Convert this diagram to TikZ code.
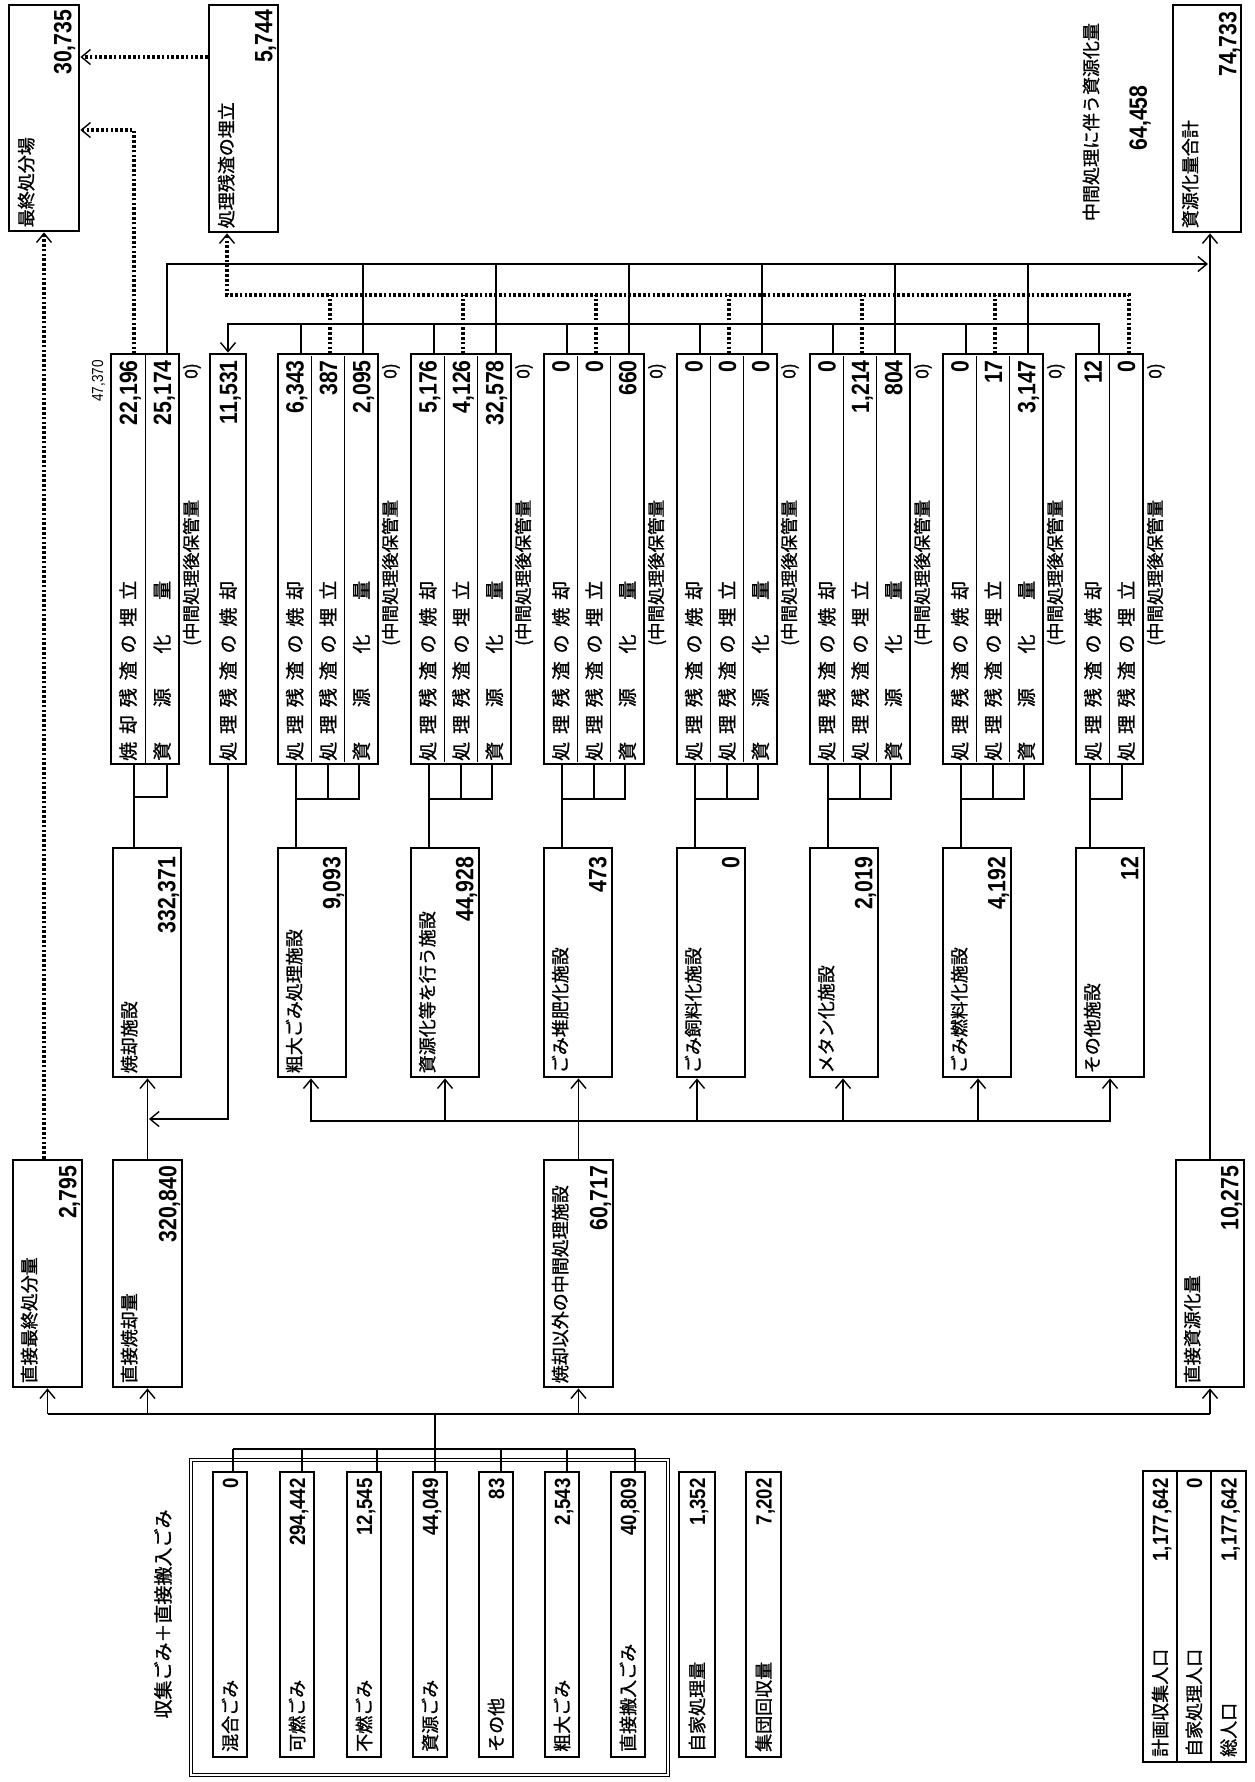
\documentclass[tikz,border=0pt]{standalone}
\usepackage{fontspec}
\setmainfont{Noto Sans CJK JP}
\newfontfamily\jb[FakeBold=1.2]{Noto Sans CJK JP}
\newfontfamily\nf[FakeStretch=0.85]{Liberation Sans}
\usetikzlibrary{arrows.meta,calc}
\newcommand\rowInc{\makebox[180pt]{処\hfill 理\hfill 残\hfill 渣\hfill の\hfill 焼\hfill 却}}
\newcommand\rowLand{\makebox[180pt]{処\hfill 理\hfill 残\hfill 渣\hfill の\hfill 埋\hfill 立}}
\newcommand\rowRes{\makebox[180pt]{資\hfill 源\hfill 化\hfill 量}}
\newcommand\rowIncLand{\makebox[180pt]{焼\hfill 却\hfill 残\hfill 渣\hfill の\hfill 埋\hfill 立}}
\begin{document}
\begin{tikzpicture}[x=-1pt,y=-1pt,rotate=90,transform shape,
  box/.style={draw, line width=2.8pt, inner sep=0pt, rectangle},
  lbl/.style={inner sep=0pt, font=\jb\fontsize{18}{18}\selectfont},
  rlbl/.style={inner sep=0pt, font=\jb\fontsize{19}{19}\selectfont},
  val/.style={inner sep=0pt, font=\nf\bfseries\fontsize{25}{25}\selectfont},
  sval/.style={inner sep=0pt, font=\nf\bfseries\fontsize{22}{22}\selectfont},
  note/.style={inner sep=0pt, font=\jb\fontsize{17.5}{17.5}\selectfont},
  sepl/.style={line width=0.9pt},
  thinl/.style={line width=1.5pt},
  thickl/.style={line width=2.6pt},
  dotl/.style={line width=3.2pt, dash pattern=on 2.6pt off 2.2pt},
  arr/.style={-{Straight Barb[length=9pt,width=15pt,line width=1.4pt]}},
]
\fill[white] (0,0) rectangle (1782,1254);
\useasboundingbox (0,0) rectangle (1782,1254);

% ---------- top boxes
\node[box, minimum width=226pt, minimum height=70pt] (saishu) at (118,44) {};
\node[lbl, anchor=north west] (saishuL) at ($(saishu.north west)+(-5,10)$) {最終処分場};
\node[val, anchor=base east] (saishuV) at ($(saishu.south east)+(6,-9)$) {30,735};

\node[box, minimum width=227pt, minimum height=69pt] (zumetate) at (118.5,243.5) {};
\node[lbl, anchor=north west] (zumetateL) at ($(zumetate.north west)+(-5,10)$) {処理残渣の埋立};
\node[val, anchor=base east] (zumetateV) at ($(zumetate.south east)+(6,-7)$) {5,744};

\node[box, minimum width=227pt, minimum height=68pt] (stotal) at (118.5,1207) {};
\node[lbl, anchor=north west] (stotalL) at ($(stotal.north west)+(-5,10)$) {資源化量合計};
\node[val, anchor=base east] (stotalV) at ($(stotal.south east)+(8,-6)$) {74,733};

\node[lbl] (chukanL) at (122,1091) {中間処理に伴う資源化量};
\node[val] (chukanV) at (118,1140) {64,458};

% ---------- facility boxes
\foreach \k/\L/\nm/\v in {0/113/焼却施設/{332,371},1/278/粗大ごみ処理施設/{9,093},2/411/資源化等を行う施設/{44,928},3/544/ごみ堆肥化施設/473,4/677/ごみ飼料化施設/0,5/810/メタン化施設/{2,019},6/943/ごみ燃料化施設/{4,192},7/1076/その他施設/12}{
  \node[box, minimum width=229pt, minimum height=68pt] (f\k) at (962.5,\L+34) {};
  \node[lbl, anchor=north west] (f\k-l) at ($(f\k.north west)+(-5,9)$) {\nm};
  \node[val, anchor=base east] (f\k-v) at ($(f\k.south east)+(10,-7)$) {\v};
}

% ---------- incineration group
\node[box, minimum width=410pt, minimum height=68pt] (g0) at (559,145) {};
\draw[sepl] (g0.west) -- (g0.east);
\node[rlbl, anchor=west] (g0-l1) at (761,128) {\rowIncLand};
\node[rlbl, anchor=west] (g0-l2) at (761,162) {\rowRes};
\node[val, anchor=base east] (g0-v1) at (360,137) {22,196};
\node[val, anchor=base east] (g0-v2) at (360,171) {25,174};
\node[inner sep=0pt, font=\nf\fontsize{16}{16}\selectfont, anchor=base east] (g0-t) at (360,103) {47,370};
\node[note, anchor=west] (g0-n1) at (646,192) {(中間処理後保管量};
\node[note, anchor=east] (g0-n2) at (363,192) {0)};
\draw[thinl] (764,167) -| (797,134) -- ($(f0.east)+(0,-13)$);
\draw[thinl] (764,134) -- (797,134);

% ---------- residue incineration box
\node[box, minimum width=410pt, minimum height=36pt] (zinc) at (559,228) {};
\node[rlbl, anchor=west] (zinc-l) at (761,228) {\rowInc};
\node[val, anchor=base east] (zinc-v) at (360,237) {11,531};

% ---------- three-row groups
\foreach \k/\L/\a/\b/\c in {1/278/{6,343}/387/{2,095},2/411/{5,176}/{4,126}/{32,578},3/544/0/0/660,4/677/0/0/0,5/810/0/{1,214}/804,6/943/0/17/{3,147}}{
  \node[box, minimum width=410pt, minimum height=100pt] (g\k) at (559,\L+50) {};
  \draw[sepl] (356,\L+33.3) -- (762,\L+33.3) (356,\L+66.7) -- (762,\L+66.7);
  \node[rlbl, anchor=west] (g\k-l1) at (761,\L+16.7) {\rowInc};
  \node[rlbl, anchor=west] (g\k-l2) at (761,\L+50) {\rowLand};
  \node[rlbl, anchor=west] (g\k-l3) at (761,\L+83.3) {\rowRes};
  \node[val, anchor=base east] (g\k-v1) at (360,\L+25.7) {\a};
  \node[val, anchor=base east] (g\k-v2) at (360,\L+59) {\b};
  \node[val, anchor=base east] (g\k-v3) at (360,\L+92.3) {\c};
  \node[note, anchor=west] (g\k-n1) at (646,\L+113) {(中間処理後保管量};
  \node[note, anchor=east] (g\k-n2) at (363,\L+113) {0)};
  \draw[thinl] (354,\L+23) -- (324,\L+23);
  \draw[dotl] (354,\L+52) -- (295,\L+52);
  \draw[thickl] (354,\L+85) -- (264,\L+85);
  \draw[thinl] (764,\L+81) -| (799,\L+18) -- ($(f\k.east)+(0,-16)$);
  \draw[thinl] (764,\L+50) -- (799,\L+50);
  \draw[thinl] (764,\L+18) -- (799,\L+18);
}

% ---------- other group (two rows)
\node[box, minimum width=410pt, minimum height=67pt] (g7) at (559,1109.5) {};
\draw[sepl] (g7.west) -- (g7.east);
\node[rlbl, anchor=west] (g7-l1) at (761,1092.8) {\rowInc};
\node[rlbl, anchor=west] (g7-l2) at (761,1126.2) {\rowLand};
\node[val, anchor=base east] (g7-v1) at (360,1101.8) {12};
\node[val, anchor=base east] (g7-v2) at (360,1135.2) {0};
\node[note, anchor=west] (g7-n1) at (646,1156) {(中間処理後保管量};
\node[note, anchor=east] (g7-n2) at (363,1156) {0)};
\draw[thinl] (764,1122) -| (799,1090) -- ($(f7.east)+(0,-20)$);
\draw[thinl] (764,1090) -- (799,1090);

% ---------- upper buses
\draw[dotl, arr] (354,134) -| ($(saishu.south)+(12,0)$);
\draw[dotl, arr] ($(zumetate.north)+(-61.5,0)$) -- ($(saishu.south)+(-61,0)$);
\draw[dotl, arr] (354,1129) -| (295,227) -- ($(zumetate.west)+(0,-16.5)$);
\draw[thickl, arr] (354,167) -| (264,1208);
\draw[thinl, arr] (354,1099) -- (324,1099) -- (324,228) -- (zinc.east);

% ---------- direct boxes
\foreach \k/\c/\h/\nm/\v in {1/47.5/69/直接最終処分量/{2,795},2/147.5/69/直接焼却量/{320,840},3/578.5/69/焼却以外の中間処理施設/{60,717},4/1210/68/直接資源化量/{10,275}}{
  \node[box, minimum width=227pt, minimum height=\h pt] (d\k) at (1273.5,\c) {};
  \node[lbl, anchor=north west] (d\k-l) at ($(d\k.north west)+(-5,9)$) {\nm};
  \node[val, anchor=base east] (d\k-v) at ($(d\k.south east)+(7,-7)$) {\v};
}
\draw[dotl, arr] ($(d1.east)+(0,-3.5)$) -- ($(saishu.west |- d1.east)+(0,-3.5)$);
\draw[thickl, arr] (d4.east) -- (stotal.west |- d4.east);
\draw[thinl, arr] (d2.east) -- (f0.west |- d2.east);
\draw[thinl, arr] (zinc.west) -| (1119,149);
\draw[thinl, arr] (d3.east) -- (f3.west |- d3.east);

% ---------- lower facility bus
\draw[thinl] (1121,311) -- (1121,1110);
\foreach \k/\dx in {1/-1,2/0,4/-14,5/-1,6/1,7/0}{
  \draw[thinl, arr] ($(f\k.west)+(44,\dx)$) -- ($(f\k.west)+(0,\dx)$);
}

% ---------- input group
\node[draw, line width=1pt, double, double distance=2.6pt, minimum width=315pt, minimum height=477pt, inner sep=0pt] (inbox) at (1617.5,429.5) {};
\node[inner sep=0pt, font=\jb\fontsize{19}{19}\selectfont] (intitle) at (1614,163) {収集ごみ＋直接搬入ごみ};
\foreach \k/\B/\nm/\v/\t in {1/213/混合ごみ/0/233,2/280/可燃ごみ/{294,442}/302,3/347/不燃ごみ/{12,545}/377,4/413/資源ごみ/{44,049}/435,5/479/その他/83/501,6/545/粗大ごみ/{2,543}/567,7/611/直接搬入ごみ/{40,809}/635}{
  \node[box, minimum width=285pt, minimum height=34pt] (in\k) at (1614.5,\B+17) {};
  \node[lbl, anchor=west] (in\k-l) at (1752,\B+17) {\nm};
  \node[sval, anchor=base east] (in\k-v) at (1478,\B+25) {\v};
  \draw[thinl] (1449,\t) -- (1472,\t);
}
\draw[thinl] (1449,233) -- (1449,635);
\draw[thinl] (1449,435) -- (1414,435);

\node[box, minimum width=285pt, minimum height=36pt] (jika) at (1614.5,697) {};
\node[lbl, anchor=west] (jika-l) at (1752,697) {自家処理量};
\node[sval, anchor=base east] (jika-v) at (1478,705) {1,352};
\node[box, minimum width=285pt, minimum height=35pt] (shudan) at (1614.5,763.5) {};
\node[lbl, anchor=west] (shudan-l) at (1752,763.5) {集団回収量};
\node[sval, anchor=base east] (shudan-v) at (1478,771.5) {7,202};

% ---------- population
\node[box, minimum width=291pt, minimum height=103pt] (pop) at (1616.5,1194.5) {};
\draw[line width=1.5pt] (1471,1177) -- (1762,1177) (1471,1211) -- (1762,1211);
\node[lbl, anchor=west] (pop-l1) at (1757,1160) {計画収集人口};
\node[lbl, anchor=west] (pop-l2) at (1757,1194) {自家処理人口};
\node[lbl, anchor=west] (pop-l3) at (1757,1228.5) {総人口};
\node[sval, anchor=base east] (pop-v1) at (1478,1168) {1,177,642};
\node[sval, anchor=base east] (pop-v2) at (1478,1202) {0};
\node[sval, anchor=base east] (pop-v3) at (1478,1236.5) {1,177,642};

% ---------- main bus
\coordinate (mb) at (1414,0);
\draw[thinl] (mb |- d1.west) -- (mb |- d4.west);
\foreach \k in {1,2,3,4}{
  \draw[thinl, arr] (mb |- d\k.west) -- (d\k.west);
}
\end{tikzpicture}
\end{document}
